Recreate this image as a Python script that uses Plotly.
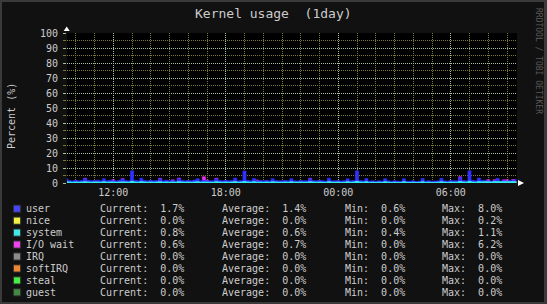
import plotly.graph_objects as go
import pandas as pd

# ---------------- data ----------------
times = pd.date_range("2024-03-11 09:30", periods=145, freq="10min")
x_range = ["2024-03-11 09:32", "2024-03-12 09:32"]

user = [
    2.0, 1.1, 0.9, 1.2, 1.0, 1.1, 2.2, 1.2, 1.0, 1.1, 1.3, 1.0,
    2.1, 1.0, 1.2, 1.1, 0.9, 1.3, 1.9, 1.1, 1.0, 7.0, 1.3, 1.0,
    2.3, 1.1, 1.0, 1.2, 1.0, 1.1, 2.0, 1.0, 1.3, 1.0, 1.1, 0.9,
    2.2, 1.2, 1.0, 1.1, 1.0, 1.4, 2.1, 1.0, 1.2, 1.1, 1.0, 1.0,
    2.0, 1.1, 1.0, 1.2, 1.0, 1.1, 2.4, 1.0, 1.1, 7.0, 1.2, 1.0,
    2.2, 1.0, 1.1, 1.0, 1.2, 1.0, 2.1, 1.1, 1.0, 1.0, 1.1, 1.0,
    2.1, 1.0, 0.9, 1.1, 1.0, 1.0, 2.2, 1.1, 1.0, 1.2, 1.0, 0.9,
    2.3, 1.0, 1.0, 1.1, 0.9, 1.0, 2.0, 1.0, 1.1, 7.0, 1.1, 1.0,
    2.2, 0.9, 1.0, 0.8, 1.0, 0.9, 2.1, 1.0, 0.8, 1.0, 0.9, 0.8,
    2.1, 0.9, 0.8, 1.0, 0.6, 0.9, 2.2, 0.9, 1.0, 0.8, 0.9, 1.0,
    2.3, 1.0, 0.9, 1.1, 1.0, 1.0, 2.8, 1.1, 1.0, 7.0, 1.2, 1.0,
    2.4, 1.1, 1.0, 0.7, 0.6, 0.7, 2.2, 0.6, 0.7, 0.6, 0.7, 0.8,
    1.7,
]
system = [
    0.8, 0.6, 0.5, 0.6, 0.5, 0.6, 0.8, 0.6, 0.5, 0.6, 0.6, 0.5,
    0.8, 0.5, 0.6, 0.6, 0.5, 0.6, 0.7, 0.6, 0.5, 1.1, 0.6, 0.5,
    0.9, 0.6, 0.5, 0.6, 0.5, 0.6, 0.8, 0.5, 0.6, 0.5, 0.6, 0.5,
    0.8, 0.6, 0.5, 0.6, 0.5, 0.6, 0.8, 0.5, 0.6, 0.6, 0.5, 0.5,
    0.8, 0.6, 0.5, 0.6, 0.5, 0.6, 0.9, 0.5, 0.6, 1.0, 0.6, 0.5,
    0.8, 0.5, 0.6, 0.5, 0.6, 0.5, 0.8, 0.6, 0.5, 0.5, 0.6, 0.5,
    0.8, 0.5, 0.5, 0.6, 0.5, 0.5, 0.8, 0.6, 0.5, 0.6, 0.5, 0.4,
    0.9, 0.5, 0.5, 0.6, 0.4, 0.5, 0.8, 0.5, 0.6, 1.1, 0.6, 0.5,
    0.8, 0.4, 0.5, 0.4, 0.5, 0.4, 0.8, 0.5, 0.4, 0.5, 0.4, 0.4,
    0.8, 0.4, 0.4, 0.5, 0.4, 0.4, 0.8, 0.4, 0.5, 0.4, 0.4, 0.5,
    0.8, 0.5, 0.4, 0.6, 0.5, 0.5, 1.0, 0.6, 0.5, 1.1, 0.6, 0.5,
    0.9, 0.7, 0.8, 0.8, 0.7, 0.9, 0.9, 0.8, 0.9, 0.8, 0.9, 0.9,
    0.8,
]
iowait = [
    0.3, 0.4, 0.3, 0.5, 0.4, 0.3, 3.2, 0.4, 0.3, 0.5, 0.4, 0.3,
    0.5, 0.3, 0.4, 2.1, 0.3, 0.4, 2.9, 0.3, 0.4, 0.5, 0.3, 0.4,
    0.4, 0.3, 0.5, 0.3, 0.4, 0.3, 3.1, 0.4, 0.3, 0.5, 2.1, 0.3,
    3.3, 0.4, 0.3, 0.5, 0.4, 0.3, 0.6, 0.4, 4.2, 2.0, 0.4, 0.3,
    3.2, 0.4, 0.3, 0.5, 0.4, 0.3, 0.5, 0.4, 0.3, 0.6, 0.4, 0.3,
    0.5, 2.0, 0.3, 0.4, 0.3, 0.4, 0.5, 0.3, 0.4, 0.3, 0.4, 0.3,
    0.4, 0.3, 0.4, 0.3, 0.4, 0.3, 3.2, 0.4, 0.3, 0.4, 0.3, 0.4,
    0.5, 0.3, 0.4, 0.3, 0.4, 0.3, 0.5, 0.4, 0.3, 0.6, 0.4, 0.3,
    0.4, 0.3, 0.4, 0.3, 0.4, 0.3, 0.5, 0.3, 0.4, 0.3, 0.4, 0.3,
    0.4, 0.3, 0.4, 0.3, 0.4, 0.3, 0.5, 0.3, 0.4, 0.3, 0.4, 0.3,
    0.4, 0.3, 0.4, 0.3, 0.4, 0.3, 4.2, 0.4, 0.3, 0.6, 0.4, 0.3,
    0.4, 0.3, 0.5, 2.2, 0.5, 2.2, 1.6, 0.5, 2.1, 2.2, 0.6, 2.3,
    0.6,
]

legend_names = ["user", "nice", "system", "I/O wait", "IRQ", "softIRQ", "steal", "guest"]
legend_cur = ["1.7%", "0.0%", "0.8%", "0.6%", "0.0%", "0.0%", "0.0%", "0.0%"]
legend_avg = ["1.4%", "0.0%", "0.6%", "0.7%", "0.0%", "0.0%", "0.0%", "0.0%"]
legend_min = ["0.6%", "0.0%", "0.4%", "0.0%", "0.0%", "0.0%", "0.0%", "0.0%"]
legend_max = ["8.0%", "0.2%", "1.1%", "6.2%", "0.0%", "0.0%", "0.0%", "0.0%"]

title_text = "Kernel usage\u00a0\u00a0(1day)"
y_title = "Percent (%)"
watermark = "RRDTOOL / TOBI OETIKER"

# ---------------- style ----------------
W, H = 547, 304
L, R, T, B = 67, 517, 33, 183
BG = "#111111"
TXT = "#cccccc"
MAJ = "#a6c0a0"
MINC = "#7a7a36"
MONO = "DejaVu Sans Mono"
legend_colors = ["#4646f2", "#eeee44", "#44e6e6", "#ee44ee", "#8c8c8c", "#ee8833", "#44ee44", "#458845"]
C_USER = "#3030ff"
C_SYS = "#33eeee"
C_IO = "#ee33ee"


def px(x):
    return (x - L) / (R - L)


def py(y):
    return (B - y) / (B - T)


fig = go.Figure()
fig.add_trace(go.Scatter(
    x=times, y=iowait, mode="lines",
    line=dict(shape="hvh", width=0.6, color=C_IO),
    fill="tozeroy", fillcolor=C_IO, showlegend=False, hoverinfo="skip",
))
for vals, color in [(system, C_SYS), (user, C_USER)]:
    fig.add_trace(go.Scatter(
        x=times, y=vals, mode="lines", stackgroup="cpu",
        line=dict(shape="hvh", width=0.6, color=color),
        fillcolor=color, showlegend=False, hoverinfo="skip",
    ))
fig.add_trace(go.Scatter(
    x=times, y=system, mode="lines",
    line=dict(shape="hvh", width=0.6, color=C_SYS),
    fill="tozeroy", fillcolor=C_SYS, showlegend=False, hoverinfo="skip",
))

grid_dash = "1px,1px"
fig.update_layout(
    width=W, height=H,
    margin=dict(l=L, r=W - R, t=T, b=H - B, pad=0),
    paper_bgcolor=BG, plot_bgcolor="#000000",
    showlegend=False,
    xaxis=dict(
        type="date", range=x_range,
        tick0="2024-03-11 00:00", dtick=6 * 3600 * 1000, tickformat="%H:%M",
        showgrid=True, gridcolor=MAJ, gridwidth=1, griddash=grid_dash,
        zeroline=False, showline=False, ticks="",
        tickfont=dict(family=MONO, size=10, color=TXT),
        ticklabelstandoff=2,
        minor=dict(tick0="2024-03-11 00:00", dtick=3600 * 1000, showgrid=True,
                   gridcolor=MINC, gridwidth=1, griddash=grid_dash),
        layer="below traces",
    ),
    yaxis=dict(
        range=[0, 100], tick0=0, dtick=10,
        showgrid=True, gridcolor=MAJ, gridwidth=1, griddash=grid_dash,
        zeroline=False, showline=False,
        ticks="outside", ticklen=3, tickcolor=MAJ, tickwidth=1,
        tickfont=dict(family=MONO, size=10, color=TXT),
        ticklabelstandoff=3,
        minor=dict(tick0=0, dtick=5, showgrid=True, gridcolor=MINC, gridwidth=1,
                   griddash=grid_dash, ticks="outside", ticklen=3, tickcolor=MINC),
        layer="below traces",
    ),
)

annotations = []
shapes = []

annotations.append(dict(text=title_text, x=px(273.5), y=py(14), xref="paper", yref="paper",
                        showarrow=False, xanchor="center", yanchor="middle",
                        font=dict(family=MONO, size=13, color=TXT)))
annotations.append(dict(text=y_title, x=px(11), y=py(116), xref="paper", yref="paper",
                        showarrow=False, xanchor="center", yanchor="middle", textangle=-90,
                        font=dict(family=MONO, size=10, color=TXT)))
annotations.append(dict(text=watermark, x=px(539), y=py(61), xref="paper", yref="paper",
                        showarrow=False, xanchor="center", yanchor="middle", textangle=90,
                        font=dict(family=MONO, size=8, color="#5a5a5a")))

row0, dy = 208.7, 11.95
for i, name in enumerate(legend_names):
    yc = row0 + dy * i
    shapes.append(dict(type="rect", xref="paper", yref="paper",
                       x0=px(13.3), x1=px(20.7), y0=py(yc + 3.6), y1=py(yc - 3.6),
                       fillcolor=legend_colors[i], line=dict(color="#2a2a2a", width=1)))
    cols = [
        (26.0, name),
        (100.0, "Current:\u00a0\u00a0" + legend_cur[i]),
        (222.3, "Average:\u00a0\u00a0" + legend_avg[i]),
        (344.5, "Min:\u00a0\u00a0" + legend_min[i]),
        (442.0, "Max:\u00a0\u00a0" + legend_max[i]),
    ]
    for xpx, txt in cols:
        annotations.append(dict(text=txt, x=px(xpx), y=py(yc), xref="paper", yref="paper",
                                showarrow=False, xanchor="left", yanchor="middle",
                                borderpad=0, borderwidth=0,
                                font=dict(family=MONO, size=10, color=TXT)))

shapes.append(dict(type="path", xref="paper", yref="paper",
                   path=f"M {px(63.7)},{py(31)} L {px(69.7)},{py(31)} L {px(66.7)},{py(26.5)} Z",
                   fillcolor="#ffffff", line=dict(color="#ffffff", width=0)))
shapes.append(dict(type="path", xref="paper", yref="paper",
                   path=f"M {px(518)},{py(180)} L {px(518)},{py(186)} L {px(524)},{py(183)} Z",
                   fillcolor="#ffffff", line=dict(color="#ffffff", width=0)))

FR = "#3a3a3a"
for (x0, x1, y0, y1) in [(0, 2, 0, H), (0, W, 0, 2), (W - 3, W, 0, H), (0, W, H - 2, H)]:
    shapes.append(dict(type="rect", xref="paper", yref="paper",
                       x0=px(x0), x1=px(x1), y0=py(y1), y1=py(y0),
                       fillcolor=FR, line=dict(width=0), layer="above"))

fig.update_layout(annotations=annotations, shapes=shapes)
fig.write_html("out.html", config={"displayModeBar": False})
